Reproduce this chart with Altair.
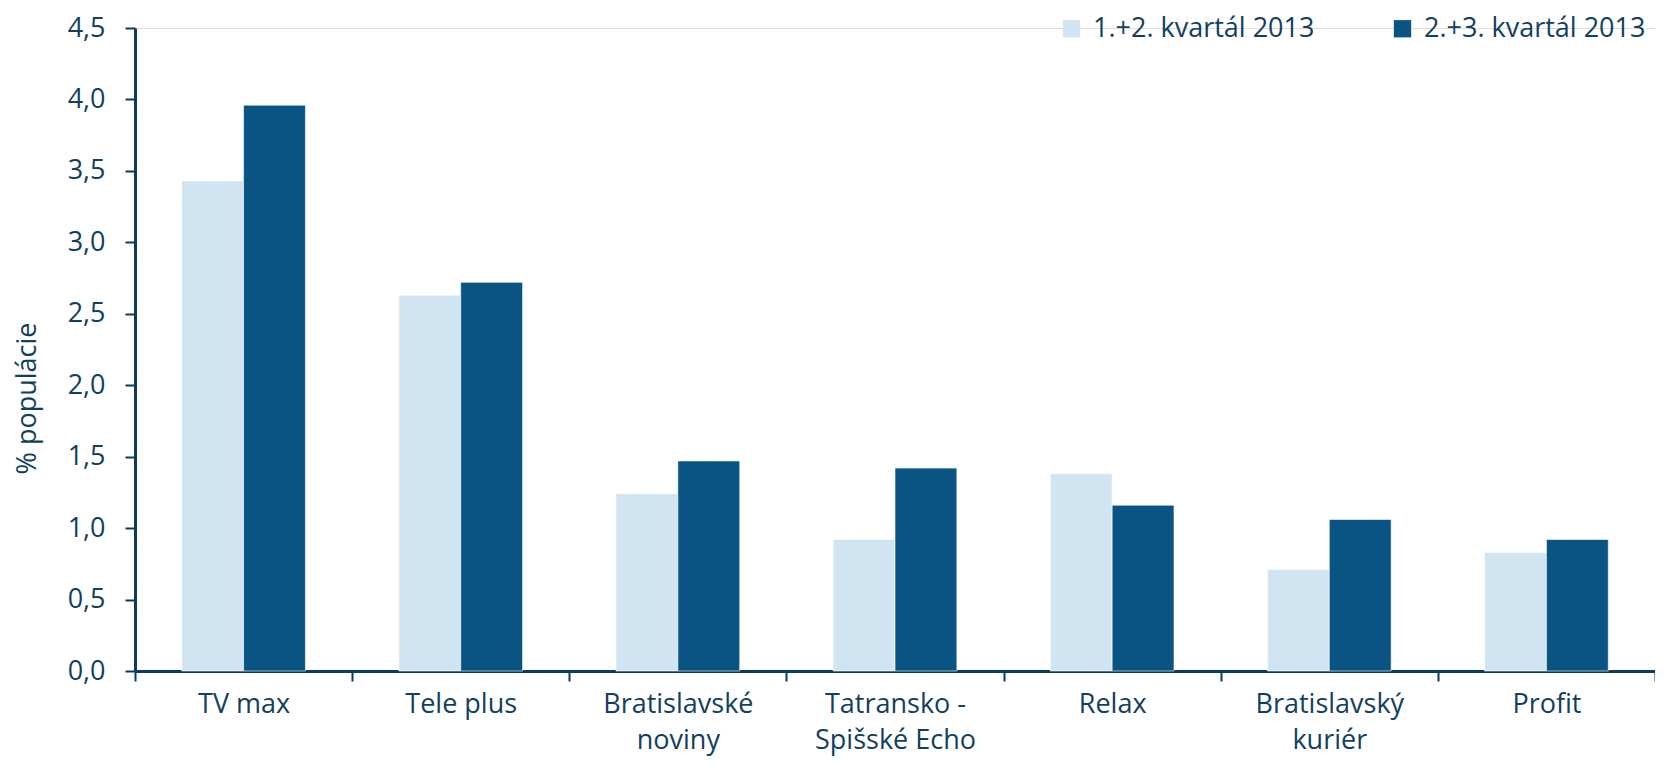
import altair as alt
import pandas as pd

categories = ["TV max", "Tele plus", "Bratislavské\nnoviny", "Tatransko -\nSpišské Echo",
              "Relax", "Bratislavský\nkuriér", "Profit"]
series = ["1.+2. kvartál 2013", "2.+3. kvartál 2013"]
values_q12 = [3.43, 2.63, 1.24, 0.92, 1.38, 0.71, 0.83]
values_q23 = [3.96, 2.72, 1.47, 1.42, 1.16, 1.06, 0.92]
y_ticks = [0, 0.5, 1.0, 1.5, 2.0, 2.5, 3.0, 3.5, 4.0, 4.5]

rows = []
for c, a, b in zip(categories, values_q12, values_q23):
    rows.append({"cat": c, "series": series[0], "val": a})
    rows.append({"cat": c, "series": series[1], "val": b})
df = pd.DataFrame(rows)

navy = "#0c3b5e"
text_col = "#123f5f"
light = "#d0e4f2"
dark = "#0a5483"
font = "Open Sans"
fs = 27

chart = alt.Chart(df).mark_bar(stroke="white", strokeWidth=0.6).encode(
    x=alt.X("cat:N", sort=categories,
            scale=alt.Scale(paddingInner=0, paddingOuter=0),
            axis=alt.Axis(title=None, labelAngle=0, tickBand="extent",
                          labelExpr="split(datum.label, '\\n')",
                          labelLineHeight=36, labelPadding=10, labelBaseline="top",
                          labelFontSize=fs, labelColor=text_col, labelFont=font,
                          domainColor=navy, domainWidth=3, tickColor=navy,
                          tickWidth=2, tickSize=10)),
    xOffset=alt.XOffset("series:N", sort=series,
                        scale=alt.Scale(paddingInner=0, paddingOuter=0.755)),
    y=alt.Y("val:Q", scale=alt.Scale(domain=[0, 4.5], nice=False),
            axis=alt.Axis(title="% populácie", values=y_ticks, grid=False,
                          labelExpr="replace(format(datum.value, '.1f'), '.', ',')",
                          labelFontSize=fs, labelColor=text_col, labelFont=font,
                          labelPadding=20, titleFontSize=fs, titleColor=text_col,
                          titleFont=font, titleFontWeight="normal", titlePadding=26,
                          titleY=370,
                          domainColor=navy, domainWidth=3, tickColor=navy,
                          tickWidth=2, tickSize=10)),
    color=alt.Color("series:N", sort=series,
                    scale=alt.Scale(domain=series, range=[light, dark]),
                    legend=alt.Legend(title=None, orient="none", direction="horizontal",
                                      legendX=923, legendY=-13,
                                      symbolType="square", symbolSize=300,
                                      symbolStrokeWidth=0, symbolOpacity=1,
                                      labelFontSize=fs, labelColor=text_col, labelFont=font,
                                      labelLimit=0, labelOffset=8, columnPadding=74)),
).properties(
    width=1520, height=643,
    autosize=alt.AutoSizeParams(type="none"),
    padding={"left": 127, "top": 20, "right": 0, "bottom": 87},
).configure_view(stroke=None).configure(background="white")

chart.save("out.html", embed_options={"renderer": "svg", "actions": False})
